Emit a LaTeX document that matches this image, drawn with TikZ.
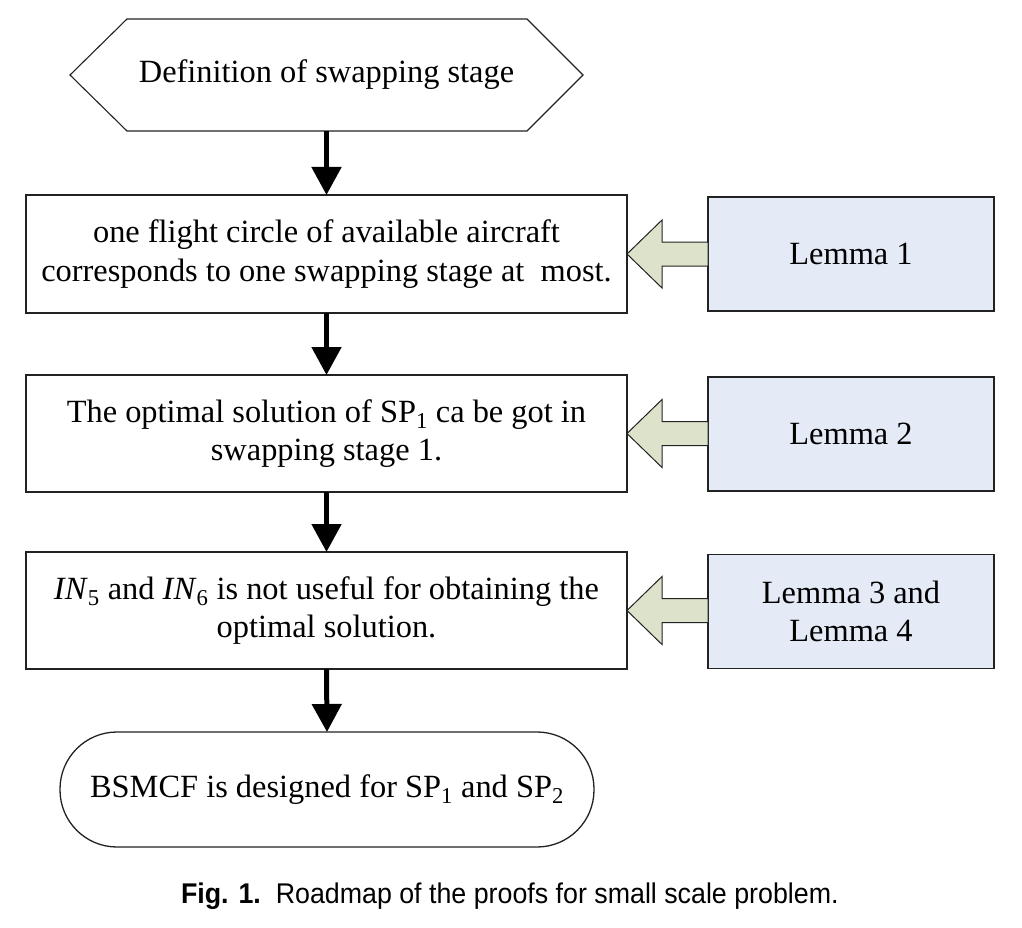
\documentclass[tikz,border=0pt]{standalone}
\usepackage{fontspec}
\setmainfont{Liberation Serif}
\newfontfamily\capfont[FakeStretch=0.94]{Liberation Sans}
\usetikzlibrary{arrows.meta,calc}
\definecolor{lemmafill}{HTML}{E4EBF6}
\definecolor{arrfill}{HTML}{DDE3CB}
\definecolor{edge}{HTML}{222222}
\begin{document}
\begin{tikzpicture}[x=1pt,y=-1pt,
  every node/.style={inner sep=0pt,outer sep=0pt,font=\fontsize{32.4}{38.5}\selectfont},
  stepbox/.style={draw=edge,line width=1.3pt,minimum width=601pt,minimum height=117pt,align=center},
  lemmabox/.style={draw=edge,line width=1.3pt,fill=lemmafill,minimum width=286pt,minimum height=114pt,align=center},
  flowarrow/.style={line width=5pt,-{Triangle[length=28pt,width=29pt]}},
  blockarr/.style={draw=edge,line width=1pt,fill=arrfill,line join=miter}
]
\useasboundingbox (0,0) rectangle (1022,928);
% top hexagon
\node[minimum width=513pt,minimum height=112pt] (def) at (326.5,75) {Definition of swapping stage};
\draw[edge,line width=1.1pt] ($(def.north west)+(57,0)$) -- ($(def.north east)+(-56,0)$) -- (def.east)
  -- ($(def.south east)+(-56,0)$) -- ($(def.south west)+(57,0)$) -- (def.west) -- cycle;
% main boxes
\node[stepbox,minimum height=118pt] (b1) at (326.5,254) {one flight circle of available aircraft\\corresponds to one swapping stage at\ \ most.};
\node[stepbox] (b2) at (326.5,433.5) {The optimal solution of SP\textsubscript{1} ca be got in\\swapping stage 1.};
\node[stepbox] (b3) at (326.5,610.5) {\textit{IN}\textsubscript{5} and \textit{IN}\textsubscript{6} is not useful for obtaining the\\optimal solution.};
\node[draw=edge,line width=1.3pt,minimum width=534pt,minimum height=115pt,rounded corners=57pt] (fin) at (327,789.5) {BSMCF is designed for SP\textsubscript{1} and SP\textsubscript{2}};
% lemmas
\node[lemmabox] (l1) at (851,254) {Lemma 1};
\node[lemmabox] (l2) at (851,434) {Lemma 2};
\node[lemmabox] (l3) at (851,611.5) {Lemma 3 and\\Lemma 4};
% flow arrows
\draw[flowarrow] (def.south) -- (b1.north);
\draw[flowarrow] (b1.south) -- (b2.north);
\draw[flowarrow] (b2.south) -- (b3.north);
\draw[flowarrow] (b3.south) -- (fin.north);
% block arrows
\foreach \b/\l in {b1/l1,b2/l2,b3/l3}{
  \draw[blockarr] (\b.east) -- ++(35,-34) -- ++(0,22) -- (\l.west |- {$(\b.east)+(0,-12)$}) -- (\l.west |- {$(\b.east)+(0,12)$}) -- ++(-46,0) -- ++(0,22) -- cycle;
}
% caption
\node[anchor=base west,font=\capfont\fontsize{28.5}{32}\selectfont] (cap) at (181,903) {\textbf{Fig. 1.}\ \ Roadmap of the proofs for small scale problem.};
\end{tikzpicture}
\end{document}
